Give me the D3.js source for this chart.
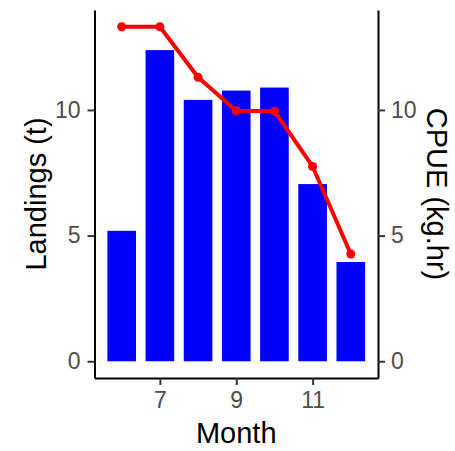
<!DOCTYPE html>
<html>
<head>
<meta charset="utf-8">
<script src="https://cdnjs.cloudflare.com/ajax/libs/d3/7.8.5/d3.min.js"></script>
<style>
  body { margin: 0; background: #fff; }
  .axis text { font-family: "Liberation Sans", Arial, sans-serif; font-size: 23px; fill: #4d4d4d; }
  .axis path { stroke: #000; stroke-width: 2px; }
  .axis line { stroke: #333; stroke-width: 2px; }
  .title { font-family: "Liberation Sans", Arial, sans-serif; font-size: 29px; fill: #000; }
</style>
</head>
<body>
<script>
var months = [6, 7, 8, 9, 10, 11, 12];
var landings = [5.19, 12.38, 10.4, 10.77, 10.89, 7.05, 3.95];
var cpue = [13.31, 13.31, 11.3, 9.97, 9.95, 7.75, 4.27];
var xTicks = [7, 9, 11];
var yTicks = [0, 5, 10];

var w = 455, h = 451;
var mLeft = 94.5, mRight = 378, mTop = 10, mBottom = 378;

var svg = d3.select("body").append("svg")
  .attr("width", w)
  .attr("height", h);

// ggplot style 5% expansion
var barW = 0.75;
var xlo = d3.min(months) - barW / 2, xhi = d3.max(months) + barW / 2;
var xpad = (xhi - xlo) * 0.05;
var xScale = d3.scaleLinear()
  .domain([xlo - xpad, xhi + xpad])
  .range([mLeft, mRight]);

var ymax = d3.max(landings.concat(cpue));
var ypad = ymax * 0.05;
var yScale = d3.scaleLinear()
  .domain([-ypad, ymax + ypad])
  .range([mBottom, mTop]);

// bars
svg.selectAll("rect.bar")
  .data(months)
  .enter()
  .append("rect")
  .attr("class", "bar")
  .attr("x", function (d) { return xScale(d - barW / 2); })
  .attr("width", function (d) { return xScale(d + barW / 2) - xScale(d - barW / 2); })
  .attr("y", function (d, i) { return yScale(landings[i]); })
  .attr("height", function (d, i) { return yScale(0) - yScale(landings[i]); })
  .style("fill", "#0000ff");

// CPUE line
var line = d3.line()
  .x(function (d) { return xScale(d); })
  .y(function (d, i) { return yScale(cpue[i]); });

svg.append("path")
  .datum(months)
  .attr("d", line)
  .style("fill", "none")
  .style("stroke", "#ff0000")
  .style("stroke-width", 4)
  .style("stroke-linejoin", "round");

svg.selectAll("circle")
  .data(months)
  .enter()
  .append("circle")
  .attr("cx", function (d) { return xScale(d); })
  .attr("cy", function (d, i) { return yScale(cpue[i]); })
  .attr("r", 4.5)
  .style("fill", "#ff0000");

// axes
var yAxisL = d3.axisLeft(yScale).tickValues(yTicks).tickSize(7).tickPadding(7).tickSizeOuter(0);
var yAxisR = d3.axisRight(yScale).tickValues(yTicks).tickSize(7).tickPadding(6).tickSizeOuter(0);
var xAxis = d3.axisBottom(xScale).tickValues(xTicks).tickSize(7).tickPadding(7).tickSizeOuter(0);

svg.append("g")
  .attr("class", "axis")
  .attr("transform", "translate(" + mLeft + ",0)")
  .call(yAxisL);

svg.append("g")
  .attr("class", "axis")
  .attr("transform", "translate(" + mRight + ",0)")
  .call(yAxisR);

svg.append("g")
  .attr("class", "axis")
  .attr("transform", "translate(0," + mBottom + ")")
  .call(xAxis);

// titles
svg.append("text")
  .attr("class", "title")
  .attr("x", (mLeft + mRight) / 2)
  .attr("y", 443)
  .style("text-anchor", "middle")
  .text("Month");

svg.append("text")
  .attr("class", "title")
  .attr("transform", "translate(46," + (mTop + mBottom) / 2 + ") rotate(-90)")
  .style("text-anchor", "middle")
  .text("Landings (t)");

svg.append("text")
  .attr("class", "title")
  .attr("transform", "translate(427," + (mTop + mBottom) / 2 + ") rotate(90)")
  .style("text-anchor", "middle")
  .text("CPUE (kg.hr)");
</script>
</body>
</html>
